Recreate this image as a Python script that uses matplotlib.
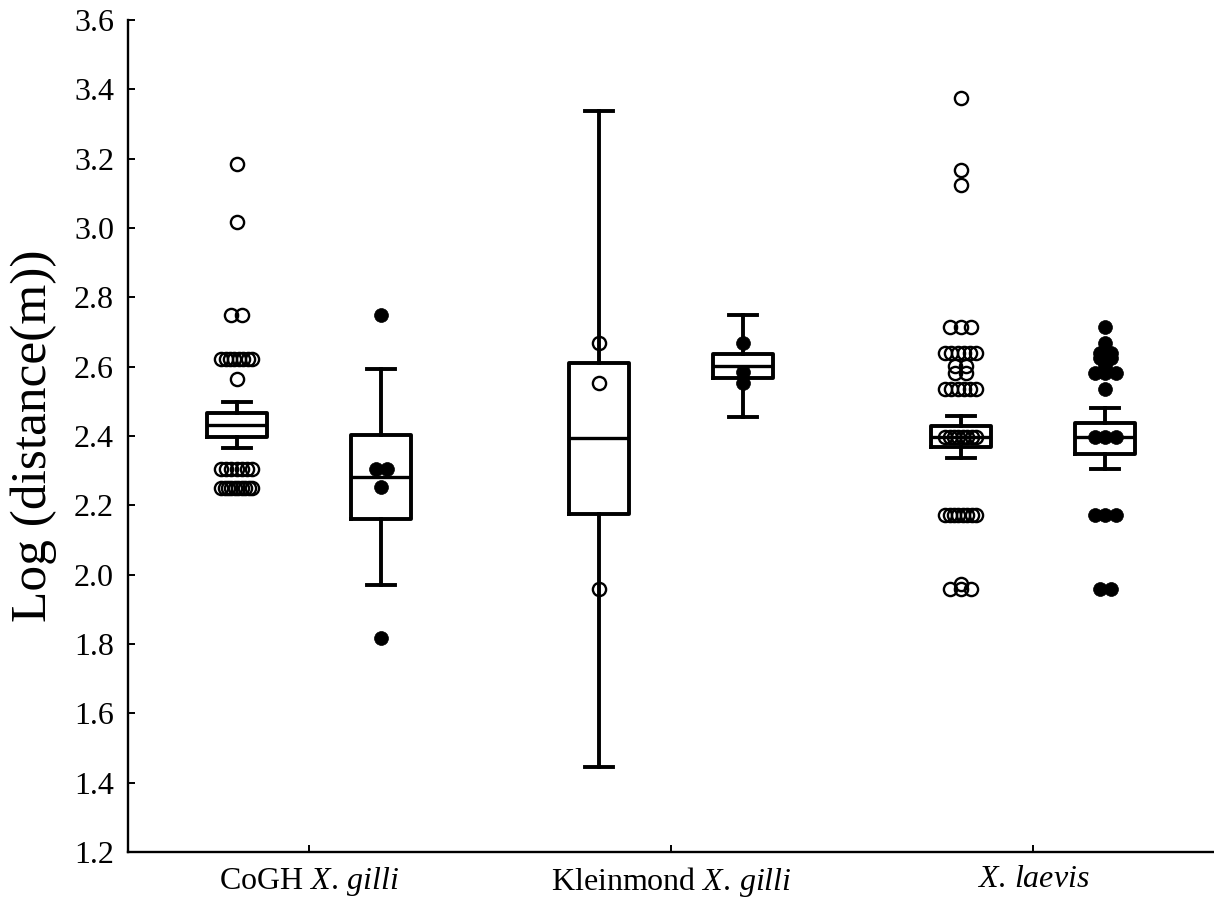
import matplotlib.pyplot as plt
import numpy as np

# Log distance per group: open = first sample, filled = second sample
cogh_open = [3.184, 3.016, 2.749, 2.749,
             2.622, 2.622, 2.622, 2.622, 2.622, 2.622, 2.622, 2.622,
             2.564,
             2.304, 2.304, 2.304, 2.304, 2.304, 2.304, 2.304,
             2.251, 2.251, 2.251, 2.251, 2.251, 2.251, 2.251, 2.251, 2.251, 2.251]
cogh_filled = [2.749, 2.304, 2.304, 2.252, 1.818]
klein_open = [2.669, 2.552, 1.958]
klein_filled = [2.669, 2.584, 2.552]
laevis_open = [3.374, 3.167, 3.124,
               2.715, 2.715, 2.715,
               2.640, 2.640, 2.640, 2.640, 2.640, 2.640,
               2.602, 2.602, 2.583, 2.583,
               2.535, 2.535, 2.535, 2.535, 2.535, 2.535,
               2.396, 2.396, 2.396, 2.396, 2.396, 2.396, 2.396, 2.396,
               2.172, 2.172, 2.172, 2.172, 2.172, 2.172, 2.172, 2.172,
               1.973, 1.958, 1.958, 1.958]
laevis_filled = [2.715, 2.669, 2.640, 2.640, 2.624, 2.624, 2.602,
                 2.581, 2.581, 2.581, 2.535,
                 2.396, 2.396, 2.396, 2.172, 2.172, 2.172, 1.958, 1.958]

# box summaries, same order as the point groups
box_med = [2.432, 2.281, 2.393, 2.603, 2.396, 2.396]
box_q1 = [2.398, 2.160, 2.175, 2.566, 2.367, 2.348]
box_q3 = [2.465, 2.403, 2.611, 2.636, 2.429, 2.438]
box_lo = [2.364, 1.971, 1.445, 2.454, 2.337, 2.304]
box_hi = [2.499, 2.592, 3.337, 2.748, 2.458, 2.481]

categories = ["CoGH $\\mathit{X.\\,gilli}$",
              "Kleinmond $\\mathit{X.\\,gilli}$",
              "$\\mathit{X.\\,laevis}$"]

plt.rcParams['font.family'] = ['Liberation Serif', 'DejaVu Serif']
plt.rcParams['mathtext.fontset'] = 'custom'
plt.rcParams['mathtext.rm'] = 'Liberation Serif'
plt.rcParams['mathtext.it'] = 'Liberation Serif:italic'

fig = plt.figure(figsize=(12.14, 8.97), dpi=100)
ax = fig.add_axes([128 / 1214, 45 / 897, 1 - 128 / 1214, 832 / 897])

cat_pos = np.arange(len(categories)) + 0.5
box_pos = np.ravel([[c - 0.2, c + 0.2] for c in cat_pos])


def spread(values, centre):
    # place tied values side by side around the box centre
    vals = np.asarray(values)
    xs = np.full(len(vals), centre, dtype=float)
    for v in np.unique(vals):
        idx = np.where(vals == v)[0]
        n = len(idx)
        if n > 1:
            span = min(0.085, 0.03 * (n - 1))
            xs[idx] = centre + np.linspace(-span / 2, span / 2, n)
    return xs, vals


groups = [cogh_open, cogh_filled, klein_open, klein_filled, laevis_open, laevis_filled]
for i, (pts, xc) in enumerate(zip(groups, box_pos)):
    xs, ys = spread(pts, xc)
    if i % 2 == 0:
        ax.plot(xs, ys, 'o', ms=9.5, mfc='none', mec='black', mew=1.7, zorder=2)
    else:
        ax.plot(xs, ys, 'o', ms=10, mfc='black', mec='black', mew=0.5, zorder=2)

stats = [dict(med=m, q1=a, q3=b, whislo=lo, whishi=hi, fliers=[])
         for m, a, b, lo, hi in zip(box_med, box_q1, box_q3, box_lo, box_hi)]
line = dict(color='black', linewidth=2.8, solid_joinstyle='round')
ax.bxp(stats, positions=box_pos, widths=0.166, capwidths=0.077, showfliers=False,
       boxprops=line, whiskerprops=line, capprops=line,
       medianprops=dict(color='black', linewidth=2.4), zorder=3)

ax.set_xlim(0, 3)
ax.set_ylim(1.2, 3.6)
ax.set_yticks(np.arange(1.2, 3.61, 0.2))
ax.set_yticklabels([f"{v:.1f}" for v in np.arange(1.2, 3.61, 0.2)])
ax.set_xticks(cat_pos)
ax.set_xticklabels(categories)

for side in ['top', 'right']:
    ax.spines[side].set_visible(False)
for side in ['left', 'bottom']:
    ax.spines[side].set_linewidth(1.7)

ax.tick_params(direction='in', length=5, width=1.4, labelsize=23)
ax.tick_params(axis='y', pad=10)
ax.tick_params(axis='x', pad=9)
ax.set_ylabel("Log (distance(m))", fontsize=37, labelpad=12)

fig.savefig('out.png', dpi=100)
plt.close(fig)
